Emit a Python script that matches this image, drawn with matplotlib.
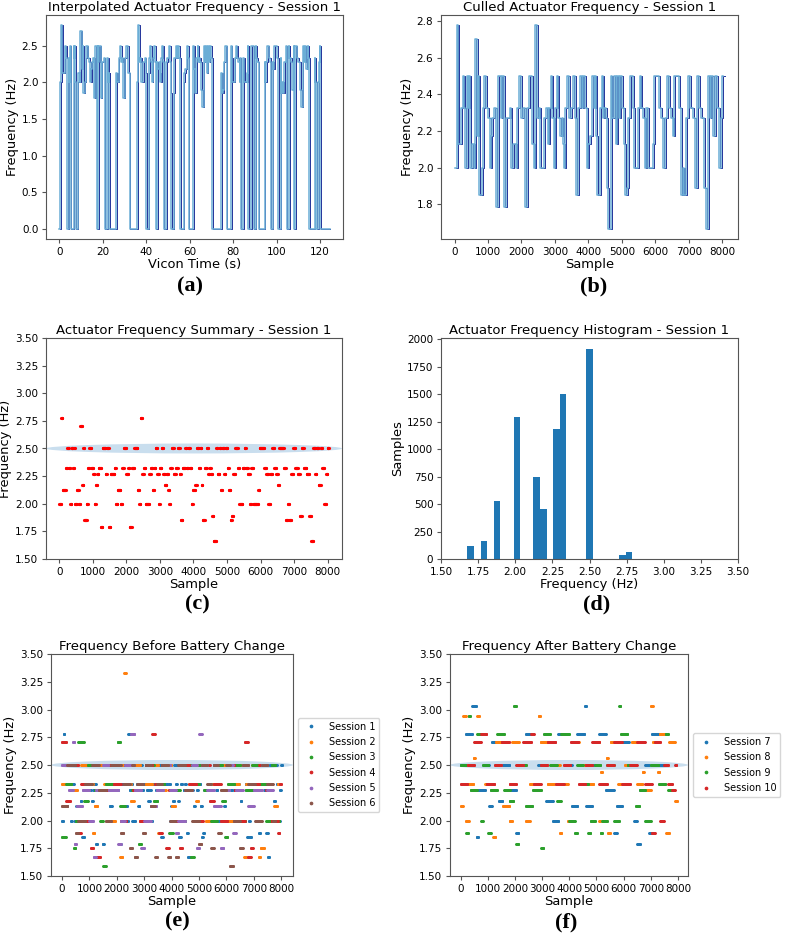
import numpy as np
import matplotlib
matplotlib.use('Agg')
import matplotlib.pyplot as plt
from matplotlib.patches import Ellipse

# session 1, culled samples: (start sample, frequency Hz); last entry closes the series
s1_runs = [
    (0, 2.0), (60, 2.778), (100, 2.128), (200, 2.326), (240, 2.5), (280, 2.326), (320, 2.0),
    (360, 2.5), (400, 2.326), (440, 2.5), (460, 2.0), (520, 2.128), (580, 2.0), (620, 2.703),
    (680, 2.174), (715, 2.5), (740, 1.852), (815, 2.0), (855, 2.326), (895, 2.5), (955, 2.326),
    (1015, 2.273), (1055, 2.0), (1095, 2.174), (1135, 2.273), (1175, 2.326), (1240, 1.786),
    (1290, 2.5), (1380, 2.273), (1420, 2.5), (1480, 1.786), (1530, 2.273), (1650, 2.326),
    (1690, 2.0), (1740, 2.128), (1830, 2.0), (1880, 2.326), (1930, 2.5), (2000, 2.273),
    (2060, 2.326), (2100, 1.786), (2160, 2.326), (2230, 2.5), (2330, 2.128), (2380, 2.0),
    (2420, 2.778), (2470, 2.273), (2520, 2.326), (2570, 2.0), (2680, 2.273), (2730, 2.326),
    (2780, 2.128), (2830, 2.326), (2870, 2.5), (2920, 2.273), (2970, 2.0), (3000, 2.326),
    (3050, 2.5), (3100, 2.273), (3150, 2.174), (3200, 2.273), (3250, 2.128), (3280, 2.0),
    (3310, 2.326), (3360, 2.5), (3420, 2.273), (3480, 2.326), (3540, 2.5), (3600, 2.273),
    (3630, 1.852), (3680, 2.326), (3760, 2.5), (3800, 2.326), (3850, 2.5), (3900, 2.326),
    (3950, 2.0), (3990, 2.128), (4050, 2.174), (4100, 2.5), (4160, 2.326), (4200, 2.5),
    (4240, 2.174), (4270, 1.852), (4340, 2.326), (4400, 2.5), (4440, 2.273), (4480, 2.326),
    (4520, 2.273), (4560, 1.887), (4600, 1.667), (4680, 2.5), (4720, 2.273), (4780, 2.5),
    (4820, 2.128), (4860, 2.5), (4920, 2.273), (4960, 2.5), (5020, 2.326), (5060, 2.128),
    (5110, 1.852), (5150, 1.887), (5190, 2.273), (5250, 2.5), (5330, 2.326), (5370, 2.0),
    (5470, 2.326), (5530, 2.5), (5570, 2.326), (5630, 2.273), (5690, 2.0), (5730, 2.326),
    (5790, 2.0), (5930, 2.128), (5970, 2.5), (6110, 2.326), (6170, 2.273), (6230, 2.0),
    (6290, 2.273), (6350, 2.5), (6410, 2.326), (6470, 2.273), (6520, 2.174), (6560, 2.5),
    (6700, 2.326), (6760, 1.852), (6820, 2.0), (6860, 1.852), (6920, 2.273), (6980, 2.5),
    (7040, 2.326), (7120, 2.273), (7180, 1.887), (7240, 2.5), (7300, 2.326), (7380, 2.273),
    (7460, 1.887), (7520, 1.667), (7580, 2.5), (7640, 2.273), (7680, 2.5), (7740, 2.174),
    (7800, 2.5), (7840, 2.326), (7900, 2.0), (7960, 2.273), (8000, 2.5), (8040, 2.5),
]

# actuator "on" windows in Vicon time (s); zeros in between
vicon_on = [
    (0.3, 3.4), (4.3, 5.2), (6.5, 7.4), (8.3, 17.2), (17.8, 20.8), (22.0, 23.0), (26.0, 32.3),
    (35.7, 40.0), (41.0, 44.2), (44.9, 48.0), (49.2, 51.5), (52.6, 55.7), (57.2, 59.5),
    (61.5, 70.3), (74.4, 76.9), (79.1, 83.4), (84.6, 86.9), (88.2, 89.4), (90.3, 91.7),
    (94.5, 97.2), (98.2, 100.8), (101.8, 104.6), (105.6, 107.8), (108.6, 115.0),
    (117.5, 118.2), (119.2, 120.1),
]
vicon_end = 124.3

# histogram of session 1 (bin left edge, count)
hist_left = [1.678, 1.767, 1.856, 1.989, 2.122, 2.167, 2.256, 2.300, 2.478, 2.700, 2.744]
hist_count = [119, 167, 530, 1294, 743, 454, 1184, 1498, 1915, 33, 67]
hist_width = 2.0 / 45

s2_runs = [
    (0, 2.326), (180, 2.5), (420, 2.273), (560, 2.0), (700, 2.5), (950, 2.326), (1120, 1.887),
    (1190, 2.128), (1300, 2.5), (1550, 2.326), (1800, 2.0), (1950, 2.5), (2130, 1.667),
    (2210, 2.5), (2280, 3.333), (2330, 2.326), (2520, 2.174), (2620, 2.5), (2850, 2.0),
    (3050, 2.326), (3300, 2.5), (3520, 1.887), (3580, 2.273), (3800, 2.5), (4000, 2.128),
    (4150, 2.0), (4400, 2.5), (4650, 2.326), (4900, 2.174), (4980, 2.5), (5250, 2.0),
    (5500, 2.326), (5750, 2.5), (6000, 2.0), (6250, 2.326), (6450, 2.5), (6650, 1.667),
    (6720, 2.326), (6950, 2.5), (7190, 1.667), (7250, 1.754), (7380, 2.326), (7600, 2.0),
    (7750, 2.128), (7870, 2.326), (7980, 2.326),
]
s3_runs = [
    (0, 1.852), (150, 2.326), (350, 2.5), (430, 1.754), (500, 2.0), (600, 2.703), (810, 2.174),
    (950, 2.5), (1200, 2.273), (1400, 2.0), (1500, 1.587), (1600, 2.326), (1850, 2.5),
    (2030, 2.703), (2130, 2.128), (2300, 2.5), (2550, 2.273), (2800, 1.786), (2900, 2.0),
    (3100, 2.5), (3350, 2.174), (3500, 2.326), (3750, 2.5), (3920, 1.887), (4050, 2.273),
    (4300, 2.0), (4500, 2.5), (4700, 1.667), (4820, 2.326), (5000, 2.5), (5200, 2.273),
    (5450, 2.0), (5650, 2.5), (5850, 2.174), (5960, 1.852), (6050, 2.326), (6300, 2.5),
    (6500, 2.0), (6700, 2.273), (6950, 2.5), (7200, 2.326), (7450, 2.0), (7650, 2.5),
    (7800, 2.0), (7950, 2.0),
]
s4_runs = [
    (0, 2.703), (160, 2.174), (300, 2.5), (600, 1.887), (700, 2.326), (900, 2.0), (1050, 1.754),
    (1150, 2.5), (1280, 1.667), (1400, 2.273), (1650, 2.5), (1900, 2.326), (2150, 2.0),
    (2350, 2.5), (2600, 2.273), (2850, 2.0), (3050, 2.5), (3300, 2.778), (3400, 2.326),
    (3550, 1.887), (3650, 2.5), (3800, 1.754), (3900, 2.273), (4150, 2.0), (4300, 1.754),
    (4400, 2.5), (4650, 2.326), (4900, 2.0), (5150, 2.5), (5400, 2.174), (5550, 2.326),
    (5800, 2.0), (6050, 2.5), (6300, 2.273), (6500, 2.0), (6670, 2.703), (6780, 1.667),
    (6890, 1.754), (6980, 2.326), (7200, 2.5), (7450, 2.273), (7650, 2.0), (7890, 1.887),
    (7950, 2.326), (8000, 2.326),
]
s5_runs = [
    (0, 2.5), (250, 2.273), (390, 2.703), (460, 1.786), (530, 2.128), (750, 2.273), (1000, 2.0),
    (1150, 1.667), (1240, 2.273), (1500, 2.5), (1700, 2.273), (2050, 1.786), (2150, 2.0),
    (2300, 2.5), (2520, 2.778), (2650, 2.273), (2900, 1.754), (3000, 2.0), (3250, 2.128),
    (3450, 2.273), (3700, 2.5), (3950, 2.273), (4150, 1.887), (4250, 2.0), (4500, 2.273),
    (4750, 2.5), (4930, 1.754), (5010, 2.778), (5110, 2.5), (5300, 2.273), (5550, 2.128),
    (5800, 1.754), (5900, 2.273), (6100, 2.5), (6250, 1.887), (6350, 2.273), (6600, 2.5),
    (6800, 2.128), (7000, 2.273), (7300, 2.5), (7500, 2.273), (7700, 2.273),
]
s6_runs = [
    (0, 2.128), (200, 2.5), (500, 1.887), (600, 2.0), (850, 2.326), (1100, 2.5), (1350, 2.273),
    (1600, 2.0), (1800, 2.5), (2150, 1.887), (2250, 2.326), (2480, 1.754), (2560, 2.5),
    (2650, 1.667), (2750, 2.326), (2950, 1.887), (3050, 2.5), (3250, 2.128), (3400, 1.667),
    (3480, 2.326), (3650, 2.5), (3880, 1.667), (3960, 2.0), (4150, 1.667), (4250, 2.5),
    (4500, 2.273), (4750, 2.0), (5000, 1.786), (5100, 2.5), (5300, 2.326), (5450, 1.754),
    (5550, 2.5), (5700, 1.887), (5800, 2.273), (6000, 2.5), (6130, 1.587), (6260, 2.0),
    (6500, 1.754), (6600, 2.5), (6800, 2.326), (7050, 2.0), (7300, 2.5), (7500, 2.326),
    (7700, 2.0), (7800, 2.0),
]
s7_runs = [
    (0, 2.5), (180, 2.778), (430, 3.030), (580, 1.852), (650, 2.273), (900, 2.5), (1050, 2.128),
    (1150, 2.703), (1400, 2.174), (1550, 2.5), (1800, 2.273), (2050, 1.887), (2130, 2.5),
    (2400, 2.778), (2600, 2.326), (2850, 2.5), (3150, 2.174), (3400, 2.0), (3600, 2.778),
    (3850, 2.5), (4100, 2.128), (4300, 2.778), (4570, 3.030), (4630, 2.128), (4850, 2.5),
    (5100, 2.778), (5350, 2.273), (5650, 1.887), (5750, 2.128), (5950, 2.703), (6200, 2.5),
    (6400, 2.0), (6500, 1.786), (6620, 2.273), (6800, 2.5), (6950, 1.887), (7050, 2.778),
    (7300, 2.5), (7500, 2.5),
]
s8_runs = [
    (0, 2.128), (90, 2.941), (190, 2.0), (300, 2.326), (470, 2.564), (520, 2.703), (610, 2.941),
    (680, 2.778), (900, 2.326), (1200, 1.852), (1290, 2.703), (1550, 2.128), (1800, 2.0),
    (1900, 2.703), (2150, 2.5), (2400, 2.0), (2550, 2.326), (2870, 2.941), (2940, 2.703),
    (3200, 2.326), (3450, 2.5), (3650, 1.887), (3720, 2.326), (3950, 2.0), (4100, 2.703),
    (4350, 2.5), (4600, 2.326), (4900, 2.703), (5100, 2.0), (5160, 2.439), (5220, 2.326),
    (5370, 2.564), (5420, 1.887), (5520, 2.703), (5800, 2.326), (6050, 2.5), (6300, 2.703),
    (6500, 2.326), (6700, 2.439), (6760, 2.273), (7010, 3.030), (7080, 2.703), (7260, 2.439),
    (7330, 2.778), (7580, 1.887), (7680, 2.703), (7900, 2.174), (7990, 2.174),
]
s9_runs = [
    (0, 2.5), (200, 1.887), (290, 2.941), (360, 2.273), (600, 2.778), (750, 2.0), (820, 2.5),
    (1020, 1.887), (1100, 2.273), (1350, 2.778), (1600, 2.273), (1800, 2.174), (1950, 3.030),
    (2050, 1.786), (2130, 2.5), (2400, 2.128), (2650, 2.273), (2970, 1.754), (3060, 2.778),
    (3300, 2.5), (3550, 2.174), (3700, 2.778), (4000, 2.0), (4200, 1.887), (4300, 2.5),
    (4500, 2.326), (4700, 1.887), (4780, 2.0), (4950, 2.5), (5150, 1.887), (5220, 2.0),
    (5400, 2.5), (5650, 2.0), (5840, 3.030), (5900, 2.778), (6150, 2.5), (6450, 2.128),
    (6600, 2.273), (6800, 2.0), (7000, 2.5), (7300, 2.326), (7550, 2.778), (7650, 2.273),
    (7750, 2.273),
]
s10_runs = [
    (0, 2.326), (250, 2.5), (500, 2.703), (750, 2.778), (950, 2.326), (1250, 2.5), (1500, 2.703),
    (1800, 2.326), (2050, 2.5), (2300, 2.703), (2600, 2.778), (2700, 2.326), (2950, 2.5),
    (3200, 2.703), (3500, 2.326), (3800, 2.5), (4050, 2.703), (4350, 2.326), (4600, 2.5),
    (4850, 2.703), (5100, 2.326), (5400, 2.5), (5650, 2.703), (5950, 2.326), (6250, 2.5),
    (6500, 2.703), (6800, 2.326), (7050, 1.887), (7150, 2.703), (7350, 2.0), (7500, 2.5),
    (7650, 2.326), (7800, 2.273), (7900, 2.5), (7950, 2.5),
]

before_sessions = ['Session 1', 'Session 2', 'Session 3', 'Session 4', 'Session 5', 'Session 6']
after_sessions = ['Session 7', 'Session 8', 'Session 9', 'Session 10']

LIGHT = '#6baed6'
DARK = '#22339a'
SPINE = '#555555'
TITLE = 9.5
LABEL = 9.4
TICK = 7.5


def unzip(runs):
    x = np.array([r[0] for r in runs], dtype=float)
    f = np.array([r[1] for r in runs], dtype=float)
    return x, f


def run_points(runs, step=15):
    # one point per `step` samples inside each run
    xs, fs = [], []
    for (a, fa), (b, _) in zip(runs[:-1], runs[1:]):
        pts = np.arange(a, b, step)
        xs.append(pts)
        fs.append(np.full(len(pts), fa))
    return np.concatenate(xs), np.concatenate(fs)


def vicon_series(runs, windows, t_end):
    # put the culled samples back into the on-windows, zero elsewhere
    x, f = unzip(runs)
    total_on = sum(b - a for a, b in windows)
    scale = total_on / x[-1]
    t, v = [0.0], [0.0]
    cum = 0.0
    for a, b in windows:
        lo, hi = cum / scale, (cum + b - a) / scale
        i = np.searchsorted(x, lo, side='right') - 1
        t.append(a)
        v.append(f[i])
        for k in range(i + 1, len(x)):
            if x[k] >= hi:
                break
            t.append(a + x[k] * scale - cum)
            v.append(f[k])
        t.append(b)
        v.append(0.0)
        cum += b - a
    t.append(t_end)
    v.append(0.0)
    return np.array(t), np.array(v)


def style(ax, title, xlabel, ylabel):
    ax.set_title(title, fontsize=TITLE, pad=3)
    ax.set_xlabel(xlabel, fontsize=LABEL, labelpad=1)
    ax.set_ylabel(ylabel, fontsize=LABEL, labelpad=2)
    for sp in ax.spines.values():
        sp.set_color(SPINE)
        sp.set_linewidth(0.8)
    ax.tick_params(labelsize=TICK, length=3, width=0.8, color=SPINE, pad=2.5)


def band(ax):
    x0, x1 = ax.get_xlim()
    ax.add_patch(Ellipse(((x0 + x1) / 2, 2.5), x1 - x0, 0.09, facecolor='#a6c8e4',
                         edgecolor='none', alpha=0.6, zorder=1))
    ax.set_xlim(x0, x1)


fig = plt.figure(figsize=(7.85, 9.38), dpi=100)
W, H = 785, 938


def add_ax(left, top, right, bottom):
    return fig.add_axes([left / W, 1 - bottom / H, (right - left) / W, (bottom - top) / H])


# (a)
ax = add_ax(46, 15, 343, 239)
t, v = vicon_series(s1_runs, vicon_on, vicon_end)
ax.step(t + 0.3, v, where='post', color=DARK, lw=0.7)
ax.step(t, v, where='post', color=LIGHT, lw=1.1)
ax.set_xlim(-6.2, 130.5)
ax.set_xticks(np.arange(0, 121, 20))
style(ax, 'Interpolated Actuator Frequency - Session 1', 'Vicon Time (s)', 'Frequency (Hz)')

# (b)
ax = add_ax(441, 15, 738, 239)
x1, f1 = unzip(s1_runs)
ax.step(x1 + 30, f1, where='post', color=DARK, lw=0.7)
ax.step(x1, f1, where='post', color=LIGHT, lw=1.1)
ax.set_xticks(np.arange(0, 8001, 1000))
style(ax, 'Culled Actuator Frequency - Session 1', 'Sample', 'Frequency (Hz)')

# (c)
ax = add_ax(46, 338, 342, 559)
px, pf = run_points(s1_runs, step=10)
ax.plot(px, pf, '.', color='red', ms=2.5, zorder=3)
ax.set_ylim(1.5, 3.5)
ax.set_yticks(np.arange(1.5, 3.51, 0.25))
ax.set_xticks(np.arange(0, 8001, 1000))
band(ax)
style(ax, 'Actuator Frequency Summary - Session 1', 'Sample', 'Frequency (Hz)')

# (d)
ax = add_ax(441, 338, 738, 559)
ax.bar(hist_left, hist_count, width=hist_width, align='edge', color='#1f77b4')
ax.set_xlim(1.5, 3.5)
ax.set_xticks(np.arange(1.5, 3.51, 0.25))
style(ax, 'Actuator Frequency Histogram - Session 1', 'Frequency (Hz)', 'Samples')

# (e)
ax = add_ax(51, 654, 293, 876)
for i, (runs, name) in enumerate(zip([s1_runs, s2_runs, s3_runs, s4_runs, s5_runs, s6_runs],
                                     before_sessions)):
    px, pf = run_points(runs)
    ax.plot(px, pf, '.', ls='none', color=f'C{i}', ms=2.2, label=name, zorder=3)
ax.set_ylim(1.5, 3.5)
ax.set_yticks(np.arange(1.5, 3.51, 0.25))
ax.set_xticks(np.arange(0, 8001, 1000))
band(ax)
style(ax, 'Frequency Before Battery Change', 'Sample', 'Frequency (Hz)')
ax.legend(loc='center left', bbox_to_anchor=(1.0, 0.5), fontsize=7, markerscale=1.5,
          labelspacing=0.55)

# (f)
ax = add_ax(450, 654, 688, 876)
for i, (runs, name) in enumerate(zip([s7_runs, s8_runs, s9_runs, s10_runs], after_sessions)):
    px, pf = run_points(runs)
    ax.plot(px, pf, '.', ls='none', color=f'C{i}', ms=2.2, label=name, zorder=3)
ax.set_ylim(1.5, 3.5)
ax.set_yticks(np.arange(1.5, 3.51, 0.25))
ax.set_xticks(np.arange(0, 8001, 1000))
band(ax)
style(ax, 'Frequency After Battery Change', 'Sample', 'Frequency (Hz)')
ax.legend(loc='center left', bbox_to_anchor=(1.0, 0.5), fontsize=7, markerscale=1.5,
          labelspacing=0.55)

# panel letters
for lab, x, y in [('(a)', 190, 286), ('(b)', 594, 286), ('(c)', 197, 604),
                  ('(d)', 597, 604), ('(e)', 177, 921), ('(f)', 566, 922)]:
    fig.text(x / W, 1 - y / H, lab, ha='center', va='center', fontsize=16,
             fontweight='bold', family='Liberation Serif')

fig.savefig('out.png', dpi=100)
